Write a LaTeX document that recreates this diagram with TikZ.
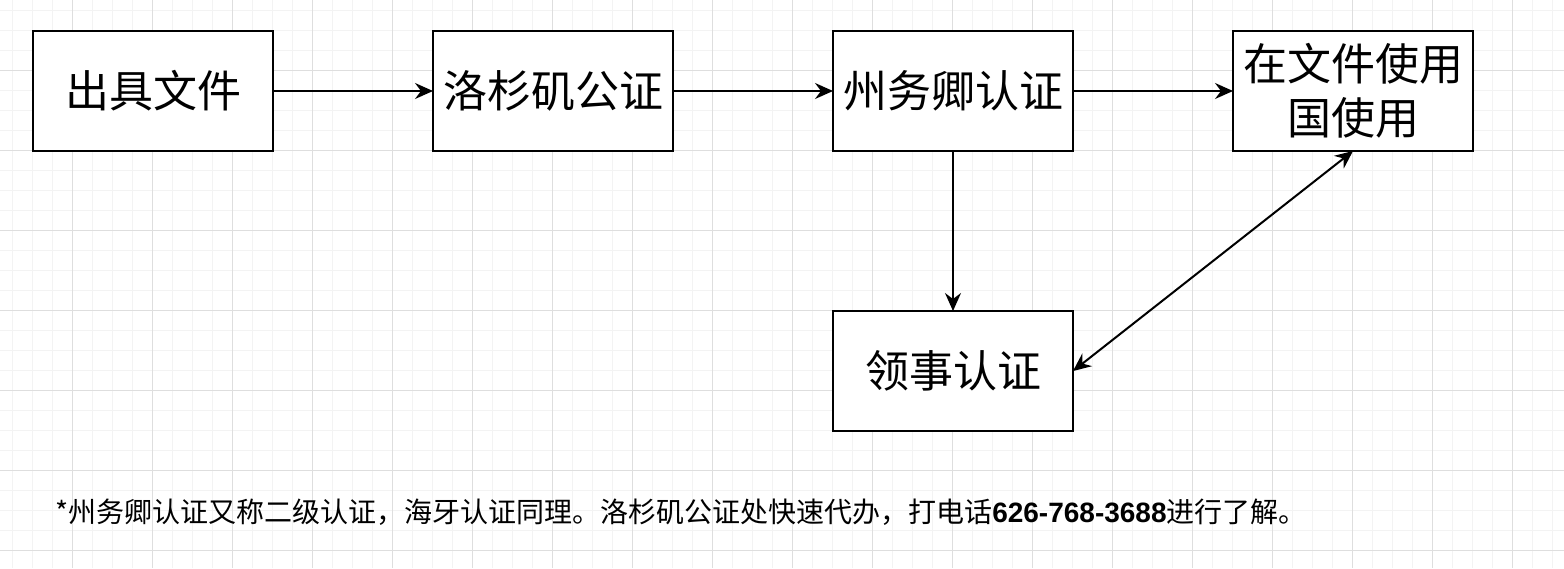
\documentclass[tikz,border=0pt]{standalone}
\usepackage{fontspec}
\setmainfont{Noto Sans CJK SC}
\newfontfamily\numfont{Liberation Sans}
\usetikzlibrary{arrows.meta, positioning}
\definecolor{gridminor}{HTML}{F3F3F3}
\definecolor{gridmajor}{HTML}{DEDEDE}

\begin{document}
\begin{tikzpicture}[
  x=1pt, y=-1pt,
  node distance=160pt and 160pt,
  every node/.style={font=\fontsize{44}{54}\selectfont},
  stepbox/.style={rectangle, draw, line width=2pt, minimum width=240pt, minimum height=120pt, inner sep=0pt, outer sep=0pt, align=center, fill=white},
  minorline/.style={draw=gridminor, line width=1pt},
  majorline/.style={draw=gridmajor, line width=1pt},
  arrow/.style={-{Stealth[length=18pt, width=16pt, inset=6pt]}, line width=2pt},
  twoway/.style={{Stealth[length=18pt, width=16pt, inset=6pt]}-{Stealth[length=18pt, width=16pt, inset=6pt]}, line width=2pt}
]
\useasboundingbox (0,0) rectangle (1564,568);

% Background grid
\fill[white] (0,0) rectangle (1564,568);
\foreach \gx in {12,32,...,1552} \draw[minorline] (\gx,0) -- (\gx,568);
\foreach \gy in {10,30,...,550} \draw[minorline] (0,\gy) -- (1564,\gy);
\foreach \gx in {72,152,...,1512} \draw[majorline] (\gx,0) -- (\gx,568);
\foreach \gy in {70,150,...,550} \draw[majorline] (0,\gy) -- (1564,\gy);

% Top row
\node[stepbox] (issue) at (153,91) {出具文件};
\node[stepbox, right=of issue] (notary) {洛杉矶公证};
\node[stepbox, right=of notary] (state) {州务卿认证};
\node[stepbox, right=of state] (use) {在文件使用\\国使用};

% Below state
\node[stepbox, below=of state] (consul) {领事认证};

% Footnote
\node[anchor=base west, inner sep=0pt, font=\fontsize{28}{34}\selectfont] (note) at (55,522) {*州务卿认证又称二级认证，海牙认证同理。洛杉矶公证处快速代办，打电话{\numfont\bfseries 626-768-3688}进行了解。};

% Arrows
\draw[arrow] (issue) -- (notary);
\draw[arrow] (notary) -- (state);
\draw[arrow] (state) -- (use);
\draw[arrow] (state) -- (consul);
\draw[twoway] (consul.east) -- (use.south);

\end{tikzpicture}
\end{document}
